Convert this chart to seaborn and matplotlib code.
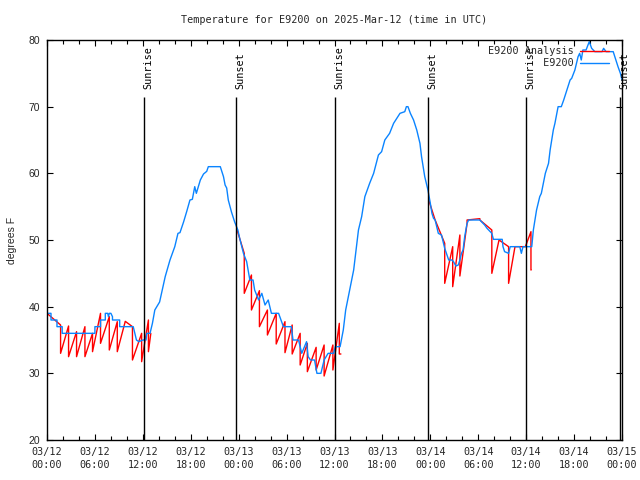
import numpy as np
import pandas as pd
import matplotlib
matplotlib.use("Agg")
import matplotlib.pyplot as plt
import seaborn as sns
from matplotlib.ticker import FixedLocator, MultipleLocator
from matplotlib.transforms import offset_copy

# ---------------- data ----------------
title = "Temperature for E9200 on 2025-Mar-12 (time in UTC)"
y_label = "degrees F"
obs_name = "E9200"
analysis_name = "E9200 Analysis"

# observations: hours since 03/12 00:00 UTC, temperature (F)
obs_hours = [0.0, 0.5, 0.5, 1.25, 1.25, 1.9, 1.9, 6.0, 6.0, 6.7, 6.7, 7.3, 7.3, 7.6, 7.7, 7.8,
             8.0, 8.2, 8.2, 9.1, 9.1, 10.8, 11.0, 11.2, 11.5, 12.0, 12.4, 12.5, 12.9, 13.2,
             13.5, 14.1, 14.8, 15.4, 16.0, 16.4, 16.65, 17.1, 17.5, 17.9, 18.2, 18.5, 18.7,
             19.2, 19.6, 20.0, 20.2, 21.7, 22.1, 22.3, 22.5, 22.7, 23.1, 23.5, 23.9, 24.1,
             24.6, 25.0, 25.4, 25.8, 26.0, 26.5, 26.9, 27.3, 27.7, 28.1, 29.0, 29.6, 30.6,
             30.8, 31.5, 31.9, 32.5, 32.7, 33.0, 33.5, 33.8, 34.3, 34.7, 35.2, 35.9, 36.1,
             36.7, 37.1, 37.4, 37.9, 38.4, 38.7, 39.0, 39.4, 39.8, 40.4, 40.9, 41.5, 41.9,
             42.3, 42.9, 43.4, 43.8, 44.2, 44.8, 45.0, 45.2, 45.5, 45.9, 46.3, 46.7, 46.9,
             47.3, 47.7, 48.0, 48.2, 48.4, 48.6, 48.8, 49.0, 49.4, 49.6, 49.8, 50.3, 50.7,
             50.9, 51.2, 51.5, 51.7, 51.9, 52.1, 52.3, 52.6, 52.8, 54.2, 54.4, 54.8, 55.1,
             55.5, 55.7, 55.9, 57.0, 57.1, 57.3, 57.8, 58.0, 59.2, 59.4, 59.6, 60.7, 60.9,
             61.3, 61.7, 61.9, 62.4, 62.8, 63.0, 63.4, 63.6, 64.0, 64.4, 64.7, 65.1, 65.5,
             65.7, 66.1, 66.5, 66.7, 66.9, 67.1, 67.5, 67.9, 68.2, 68.6, 69.5, 69.7, 70.0,
             70.9, 71.1, 71.5, 71.8, 72.0]
obs_temps = [39, 39, 38, 38, 37, 37, 36, 36, 37, 37, 38, 38, 39, 39, 38.5, 39,
             39, 38.5, 38, 38, 37, 37, 36, 35, 34.75, 35, 35, 36, 36, 37.5,
             39.5, 40.7, 44.5, 47, 49, 51, 51.1, 52.7, 54.3, 56, 56.1, 58, 57,
             59, 59.9, 60.3, 61, 61, 59.5, 58.25, 57.8, 56, 54.2, 52.7, 51.5, 50.4,
             48, 46.75, 44, 44, 42.5, 41, 42, 40.25, 41, 39, 39, 37, 37,
             35, 35, 33, 34.75, 32.5, 32, 32, 30, 30, 32, 33, 33, 34,
             34, 36.5, 39.5, 42.5, 45.5, 48.5, 51.5, 53.5, 56.5, 58.5, 60, 62.75, 63.25,
             65, 66, 67.5, 68.25, 69, 69.25, 70, 70, 69, 68, 66.5, 64.5, 62.5,
             59.5, 57.5, 55.5, 54, 53.25, 53, 52, 51, 50.75, 49.75, 48.75, 47, 47,
             46.75, 46.1, 46.25, 47, 48, 48.5, 50.5, 52.5, 53, 53, 52.75, 52.25, 51.75,
             51.25, 51, 50.1, 50.1, 49, 48.25, 48, 49, 49, 48, 49, 49, 51.5,
             54.5, 56.5, 57, 60, 61.5, 63.5, 66.5, 67.5, 70, 70, 71, 72.5, 74,
             74.25, 75.5, 77.5, 78, 77, 78.5, 78.5, 79.75, 78.75, 78.25, 78.25, 78.75, 78.25,
             78.25, 77.5, 76, 75, 74]

# analysis: hourly segments (start hour, value after reset, value at end of hour)
ana1_start = [0.0, 1.7, 2.7, 3.7, 4.75, 5.7, 6.7, 7.8, 8.8, 9.8, 10.7, 11.85, 12.7]
ana1_lo = [39, 33, 32.5, 32.5, 32.5, 33.25, 34.5, 33.5, 33.25, 37.8, 32, 31.75, 33.25]
ana1_hi = [37.25, 37.1, 36.25, 37, 36, 39, 38.5, 37.75, 37.8, 37, 36, 38, 36]
ana1_end = 13.0

ana2_start = [23.8, 24.7, 25.6, 26.6, 27.6, 28.7, 29.8, 30.7, 31.7, 32.6, 33.7, 34.7, 35.8, 36.6]
ana2_lo = [51.5, 42, 39.5, 37, 35.75, 34.4, 33.1, 32.9, 31.25, 30.25, 30.5, 29.6, 30.5, 32.9]
ana2_hi = [48, 44.75, 42.4, 39.5, 39, 37.75, 37.25, 36, 34.5, 33.9, 34.25, 34.25, 37.5, 32.9]
ana2_end = 36.8

ana3_start = [47.8, 48.6, 49.8, 50.8, 51.7, 52.6, 54.2, 55.7, 56.6, 57.8, 58.6, 59.9, 60.6]
ana3_lo = [56, 53, 43.5, 43, 44.6, 53, 53, 45, 50, 43.5, 49, 49, 45.5]
ana3_hi = [53, 49.5, 49, 50.75, 52.5, 53.2, 51.5, 50, 49, 49, 49, 51.25, 45.5]
ana3_end = 60.62

# sun events
event_hours = [12.14, 23.67, 36.07, 47.72, 59.98, 71.8]
event_names = ["Sunrise", "Sunset", "Sunrise", "Sunset", "Sunrise", "Sunset"]

x_tick_hours = [0, 6, 12, 18, 24, 30, 36, 42, 48, 54, 60, 66, 72]
x_tick_labels = ["03/12\n00:00", "03/12\n06:00", "03/12\n12:00", "03/12\n18:00",
                 "03/13\n00:00", "03/13\n06:00", "03/13\n12:00", "03/13\n18:00",
                 "03/14\n00:00", "03/14\n06:00", "03/14\n12:00", "03/14\n18:00",
                 "03/15\n00:00"]
y_ticks = [20, 30, 40, 50, 60, 70, 80]

# ---------------- build tables ----------------
def build_run(starts, lo, hi, end, run_id):
    xs, ys = [], []
    for i in range(len(starts)):
        e = starts[i + 1] if i + 1 < len(starts) else end
        xs += [starts[i], e]
        ys += [lo[i], hi[i]]
    return pd.DataFrame({"hour": xs, "temp": ys, "run": run_id})

ana_df = pd.concat([
    build_run(ana1_start, ana1_lo, ana1_hi, ana1_end, 1),
    build_run(ana2_start, ana2_lo, ana2_hi, ana2_end, 2),
    build_run(ana3_start, ana3_lo, ana3_hi, ana3_end, 3),
], ignore_index=True)
obs_df = pd.DataFrame({"hour": obs_hours, "temp": obs_temps})

# ---------------- plot ----------------
sns.set_theme(style="ticks")
plt.rcParams['font.family'] = ['DejaVu Sans Mono', 'DejaVu Sans']
plt.rcParams['axes.edgecolor'] = 'black'
plt.rcParams['axes.linewidth'] = 1.0

fig = plt.figure(figsize=(6.4, 4.8), dpi=100)
ax = fig.add_axes([47 / 640, 40 / 480, 575 / 640, 400 / 480])

red = "#ff0000"
blue = "#0a84ff"

for rid, sub in ana_df.groupby("run"):
    sns.lineplot(data=sub, x="hour", y="temp", sort=False, estimator=None,
                 color=red, lw=1.0, ax=ax,
                 label=analysis_name if rid == 1 else None)
sns.lineplot(data=obs_df, x="hour", y="temp", sort=False, estimator=None,
             color=blue, lw=1.0, ax=ax, label=obs_name)

ax.set_xlim(0, 72)
ax.set_ylim(20, 80)

# sun event lines and labels
for h, name in zip(event_hours, event_names):
    ax.vlines(h, 20, 71.4, color="black", lw=1.0)
    ax.text(h, 72.6, name, rotation=90, ha="left", va="bottom", fontsize=7.3,
            color="black", transform=offset_copy(ax.transData, fig=fig, x=-1, y=0, units="dots"))

ax.xaxis.set_major_locator(FixedLocator(x_tick_hours))
ax.set_xticklabels(x_tick_labels, fontsize=7.3, linespacing=1.35)
ax.xaxis.set_minor_locator(MultipleLocator(2))
ax.set_yticks(y_ticks)
ax.set_yticklabels([str(v) for v in y_ticks], fontsize=7.5, family="Liberation Sans")

ax.tick_params(axis="both", which="both", direction="in", top=True, right=True,
               color="black", width=0.8)
ax.tick_params(axis="both", which="major", length=4.5)
ax.tick_params(axis="x", which="minor", length=3)
ax.tick_params(axis="x", which="major", pad=5)
ax.tick_params(axis="y", which="major", pad=5)

ax.set_xlabel("")
ax.set_ylabel(y_label, fontsize=7.5, family="Liberation Sans")
ax.yaxis.set_label_coords(-0.052, 0.5)
ax.set_title(title, fontsize=7.3, pad=12)

for s in ax.spines.values():
    s.set_visible(True)
    s.set_color("black")

handles, labels = ax.get_legend_handles_labels()
w = max(len(l) for l in labels)
labels = [l.rjust(w) for l in labels]
leg = ax.legend(handles, labels, loc="upper right", frameon=False, markerfirst=False,
                bbox_to_anchor=(1 - 7 / 575, 1),
                fontsize=7.3, handlelength=2.9, handletextpad=0.6, labelspacing=0.2,
                borderaxespad=0.4, borderpad=0.2)

fig.savefig("out.png", dpi=100)
